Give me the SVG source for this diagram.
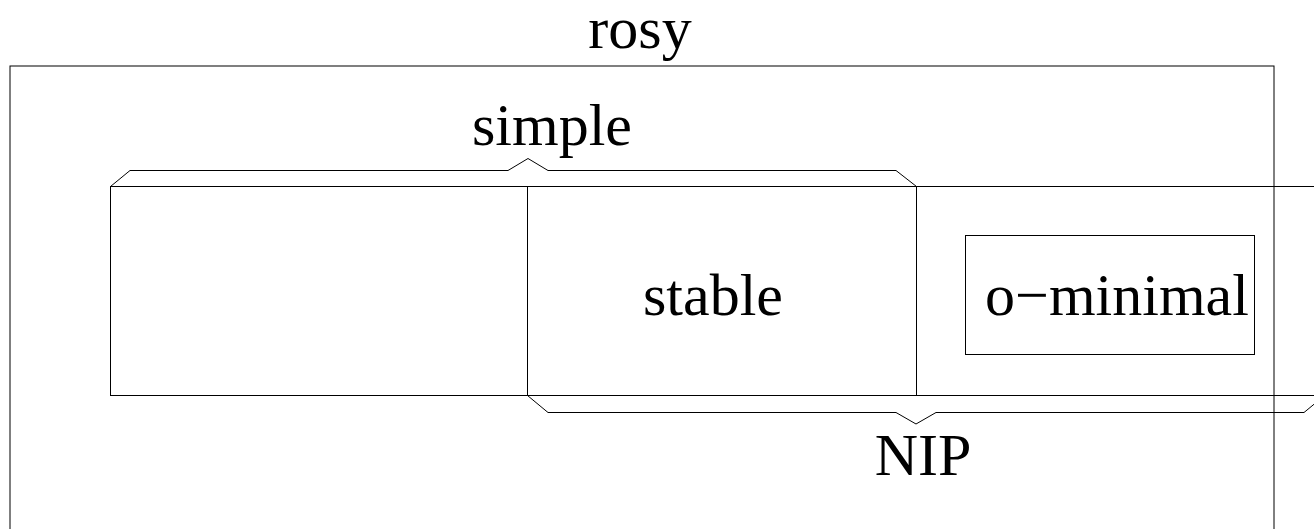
<svg xmlns="http://www.w3.org/2000/svg" width="1314" height="529" viewBox="0 0 1314 529">
<style>
.ln{fill:none;stroke:#000;stroke-width:1}
.t{font-family:"Liberation Serif","Times New Roman",serif;font-size:60px;fill:#000;text-anchor:middle}
</style>
<rect width="1314" height="529" fill="#fff"/>
<g id="rosy">
<rect class="ln" x="10" y="66" width="1264" height="500"/>
<text class="t" x="640" y="48">rosy</text>
</g>
<g id="simple">
<rect class="ln" x="110.5" y="186.5" width="417" height="209"/>
</g>
<g id="stable">
<rect class="ln" x="527.5" y="186.5" width="389" height="209"/>
<text class="t" x="713" y="315">stable</text>
</g>
<g id="nip">
<path class="ln" d="M916.5 186.5H1320M916.5 395.5H1320"/>
</g>
<g id="ominimal">
<rect class="ln" x="965.5" y="235.5" width="289" height="119"/>
<text class="t" x="1117" y="315">o−minimal</text>
</g>
<g id="connectors">
<path class="ln" d="M110.5 186.5L130 170.5H508L528 158.5L548 170.5H896L916.5 186.5"/>
<text class="t" x="552" y="145">simple</text>
<path class="ln" d="M527.5 395.5L548 412.5H896L916 424L936 412.5H1304L1324 396"/>
<text class="t" x="923" y="475">NIP</text>
</g>
</svg>
